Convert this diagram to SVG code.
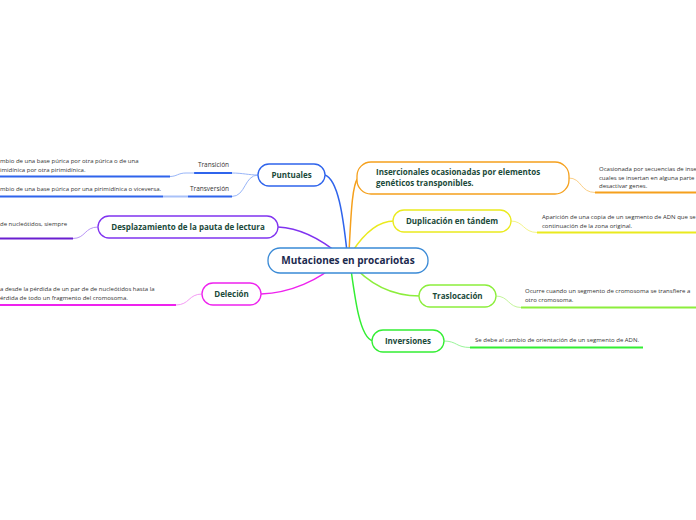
<svg xmlns="http://www.w3.org/2000/svg" width="696" height="520" viewBox="0 0 696 520">
<style>
.bg{fill:#ffffff}
.node{fill:#ffffff;stroke-width:1.3}
.lbl{font-family:"Open Sans","Noto Sans",sans-serif;font-weight:bold;font-size:8px;fill:#1b4a3a;text-anchor:middle}
.root{font-family:"Open Sans","Noto Sans",sans-serif;font-weight:bold;font-size:10px;fill:#1b2a4e;text-anchor:middle}
.desc{font-family:"Open Sans","Noto Sans",sans-serif;font-size:6px;fill:#333333}
.sub{font-family:"Open Sans","Noto Sans",sans-serif;font-size:6.5px;fill:#333333;text-anchor:middle}
.main{fill:none;stroke-width:1.5;stroke-linecap:round}
.soft{fill:none;stroke-width:1;stroke-linecap:round}
.ul{fill:none;stroke-width:2}
</style>
<rect class="bg" x="0" y="0" width="696" height="520"/>
<g id="connectors">
  <path class="main" stroke="#2f64ec" d="M347,252 C343,215 338,180 325,175"/>
  <path class="main" stroke="#f5a01c" d="M349,252 C351,215 352,185 358,178"/>
  <path class="main" stroke="#eaea1e" d="M352,252 C365,232 378,221 394,221"/>
  <path class="main" stroke="#8033f0" d="M340,255 C322,240 300,228 278,227"/>
  <path class="main" stroke="#ee22ee" d="M338,262 C320,280 290,293 261,294"/>
  <path class="main" stroke="#8cee3c" d="M350,262 C370,286 395,296 420,296"/>
  <path class="main" stroke="#33ee33" d="M350,262 C355,300 360,338 373,341"/>
  <!-- Puntuales children -->
  <path class="soft" stroke="#98b5f8" d="M258,175 C248,175 243,173 232,173"/>
  <path class="ul" stroke="#2f64ec" d="M232,173 L194,173"/>
  <path class="soft" stroke="#98b5f8" d="M194,173 L186,173 C178,173 177,176.5 170,176.5"/>
  <path class="ul" stroke="#2f64ec" d="M170,176.5 L0,176.5"/>
  <path class="soft" stroke="#98b5f8" d="M258,175 C244,175 246,196.5 232,196.5"/>
  <path class="ul" stroke="#2f64ec" d="M232,196.5 L188,196.5"/>
  <path class="ul" stroke="#a9c1f8" d="M188,196.5 L163,196.5"/>
  <path class="ul" stroke="#2f64ec" d="M163,196.5 L0,196.5"/>
  <!-- Desplazamiento -->
  <path class="soft" stroke="#b995f6" d="M98,227 C84,227 86,238.5 73,238.5"/>
  <path class="ul" stroke="#6a1fd0" d="M73,238.5 L0,238.5"/>
  <!-- Deleción -->
  <path class="soft" stroke="#f59af5" d="M202,294 C188,294 190,305 176,305"/>
  <path class="ul" stroke="#ee22ee" d="M176,305 L0,305"/>
  <!-- Insercionales -->
  <path class="soft" stroke="#fbcf86" d="M569,178 C582,178 580,192.5 595,192.5"/>
  <path class="ul" stroke="#f5a01c" d="M595,192.5 L696,192.5"/>
  <!-- Duplicación -->
  <path class="soft" stroke="#f4f48a" d="M511,221 C524,221 523,232.5 537,232.5"/>
  <path class="ul" stroke="#eaea1e" d="M537,232.5 L696,232.5"/>
  <!-- Traslocación -->
  <path class="soft" stroke="#c3f59a" d="M496,296 C509,296 508,307.5 521,307.5"/>
  <path class="ul" stroke="#8cee3c" d="M521,307.5 L696,307.5"/>
  <!-- Inversiones -->
  <path class="soft" stroke="#99f599" d="M444,341 C457,341 456,347.5 470,347.5"/>
  <path class="ul" stroke="#33ee33" d="M470,347.5 L643,347.5"/>
</g>
<g id="root">
  <rect class="node" stroke="#3a8ad6" x="268" y="248" width="160" height="25" rx="12"/>
  <text class="root" x="348" y="264">Mutaciones en procariotas</text>
</g>
<g id="puntuales">
  <rect class="node" stroke="#2f64ec" x="258" y="164" width="67" height="22" rx="11"/>
  <text class="lbl" x="291.5" y="178">Puntuales</text>
  <text class="sub" x="213.5" y="167">Transición</text>
  <text class="sub" x="209.5" y="191">Transversión</text>
  <text class="desc" x="0" y="163">mbio de una base púrica por otra púrica o de una</text>
  <text class="desc" x="0" y="172">imidínica por otra pirimidínica.</text>
  <text class="desc" x="0" y="191">mbio de una base púrica por una pirimidínica o viceversa.</text>
</g>
<g id="desplazamiento">
  <rect class="node" stroke="#8033f0" x="98" y="216" width="180" height="22" rx="11"/>
  <text class="lbl" x="188" y="230">Desplazamiento de la pauta de lectura</text>
  <text class="desc" x="0" y="226">de nucleótidos, siempre</text>
</g>
<g id="delecion">
  <rect class="node" stroke="#ee22ee" x="202" y="283" width="59" height="22" rx="11"/>
  <text class="lbl" x="231.5" y="297">Deleción</text>
  <text class="desc" x="0" y="291">a desde la pérdida de un par de de nucleótidos hasta la</text>
  <text class="desc" x="0" y="300">érdida de todo un fragmento del cromosoma.</text>
</g>
<g id="insercionales">
  <rect class="node" stroke="#f5a01c" x="357" y="162" width="212" height="32" rx="14"/>
  <text class="lbl" x="376" y="175" style="text-anchor:start">Insercionales ocasionadas por elementos</text>
  <text class="lbl" x="376" y="186" style="text-anchor:start">genéticos transponibles.</text>
  <text class="desc" x="599" y="171">Ocasionada por secuencias de inse</text>
  <text class="desc" x="599" y="179.5">cuales se insertan en alguna parte</text>
  <text class="desc" x="599" y="188">desactivar genes.</text>
</g>
<g id="duplicacion">
  <rect class="node" stroke="#eaea1e" x="393" y="210" width="118" height="22" rx="11"/>
  <text class="lbl" x="452" y="224">Duplicación en tándem</text>
  <text class="desc" x="542" y="219">Aparición de una copia de un segmento de ADN que se</text>
  <text class="desc" x="542" y="227.5">continuación de la zona original.</text>
</g>
<g id="traslocacion">
  <rect class="node" stroke="#8cee3c" x="419" y="285" width="77" height="22" rx="11"/>
  <text class="lbl" x="457.5" y="299">Traslocación</text>
  <text class="desc" x="525" y="293">Ocurre cuando un segmento de cromosoma se transfiere a</text>
  <text class="desc" x="525" y="301.5">otro cromosoma.</text>
</g>
<g id="inversiones">
  <rect class="node" stroke="#33ee33" x="372" y="330" width="72" height="22" rx="11"/>
  <text class="lbl" x="408" y="344">Inversiones</text>
  <text class="desc" x="475" y="342">Se debe al cambio de orientación de un segmento de ADN.</text>
</g>
</svg>
